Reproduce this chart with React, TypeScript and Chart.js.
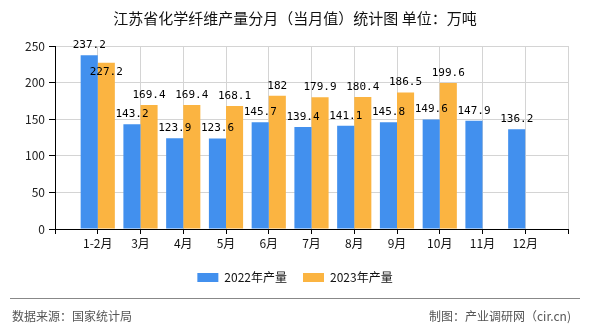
import React, { useEffect, useRef } from "react";
import { Chart, registerables } from "chart.js";

Chart.register(...registerables);

const titleText = "江苏省化学纤维产量分月（当月值）统计图 单位：万吨";
const months = ["1-2月", "3月", "4月", "5月", "6月", "7月", "8月", "9月", "10月", "11月", "12月"];
const series2022 = [237.2, 143.2, 123.9, 123.6, 145.7, 139.4, 141.1, 145.8, 149.6, 147.9, 136.2];
const series2023 = [227.2, 169.4, 169.4, 168.1, 182, 179.9, 180.4, 186.5, 199.6, null, null];
const seriesNames = ["2022年产量", "2023年产量"];
const seriesColors = ["#4290EE", "#FBB441"];
const yTicks = [0, 50, 100, 150, 200, 250];
const sourceText = "数据来源：国家统计局";
const creditText = "制图：产业调研网（cir.cn)";

const FONT = '"Noto Sans CJK SC", "Noto Sans", sans-serif';

const labelPlugin = {
  id: "barLabels",
  afterDatasetsDraw(chart: any) {
    const ctx = chart.ctx;
    ctx.save();
    ctx.font = '11px "DejaVu Sans Mono", monospace';
    ctx.fillStyle = "#000";
    ctx.textAlign = "center";
    ctx.textBaseline = "middle";
    const placed: { x: number; y: number; w: number }[] = [];
    const h = 12;
    chart.data.datasets.forEach((ds: any, di: number) => {
      const meta = chart.getDatasetMeta(di);
      meta.data.forEach((bar: any, i: number) => {
        const v = ds.data[i];
        if (v == null) return;
        const text = String(v);
        const w = ctx.measureText(text).width;
        let y = bar.y - 10;
        const overlaps = (yy: number) =>
          placed.some((p) => Math.abs(p.x - bar.x) < (p.w + w) / 2 && Math.abs(p.y - yy) < h);
        if (overlaps(y)) y = bar.y + 9;
        placed.push({ x: bar.x, y, w });
        ctx.fillText(text, bar.x, y);
      });
    });
    ctx.restore();
  },
};

const decorPlugin = {
  id: "decor",
  afterDraw(chart: any) {
    const ctx = chart.ctx;
    const W = chart.width;
    ctx.save();
    // title
    ctx.font = "15px " + FONT;
    ctx.fillStyle = "#111";
    ctx.textAlign = "center";
    ctx.textBaseline = "middle";
    ctx.fillText(titleText, W / 2, 18);

    // legend
    ctx.font = "12px " + FONT;
    const boxW = 21, boxH = 9, gapBox = 6, gapItem = 16;
    const widths = seriesNames.map((n) => boxW + gapBox + ctx.measureText(n).width);
    const total = widths.reduce((a, b) => a + b, 0) + gapItem * (widths.length - 1);
    let x = W / 2 - total / 2;
    const ly = 277.5;
    seriesNames.forEach((n, i) => {
      ctx.fillStyle = seriesColors[i];
      ctx.fillRect(x, ly - boxH / 2, boxW, boxH);
      ctx.fillStyle = "#111";
      ctx.textAlign = "left";
      ctx.fillText(n, x + boxW + gapBox, ly);
      x += widths[i] + gapItem;
    });

    // footer
    ctx.strokeStyle = "#888";
    ctx.lineWidth = 1;
    ctx.beginPath();
    ctx.moveTo(10, 298.5);
    ctx.lineTo(580, 298.5);
    ctx.stroke();
    ctx.fillStyle = "#555";
    ctx.font = "12px " + FONT;
    ctx.textAlign = "left";
    ctx.fillText(sourceText, 12, 316);
    ctx.textAlign = "right";
    ctx.fillText(creditText, 571, 316);
    ctx.restore();
  },
};

export default function App() {
  const ref = useRef<HTMLCanvasElement | null>(null);
  useEffect(() => {
    if (!ref.current) return;
    const labels = ["", ...months, ""];
    const pad = (arr: (number | null)[]) => [null, ...arr, null];
    const chart = new Chart(ref.current, {
      type: "bar",
      data: {
        labels,
        datasets: [
          {
            label: seriesNames[0],
            data: pad(series2022),
            backgroundColor: seriesColors[0],
            categoryPercentage: 0.8,
            barPercentage: 1.0,
          },
          {
            label: seriesNames[1],
            data: pad(series2023),
            backgroundColor: seriesColors[1],
            categoryPercentage: 0.8,
            barPercentage: 1.0,
          },
        ],
      },
      options: {
        responsive: false,
        animation: false,
        layout: { padding: { left: 0, right: 22, top: 46, bottom: 81 } },
        plugins: {
          legend: { display: false },
          title: { display: false },
          tooltip: { enabled: false },
        },
        scales: {
          x: {
            offset: false,
            grid: {
              offset: false,
              color: "#d4d4d4",
              tickColor: "#000",
              tickLength: 5,
              drawOnChartArea: true,
            },
            border: { color: "#000", width: 1 },
            ticks: {
              autoSkip: false,
              maxRotation: 0,
              minRotation: 0,
              padding: 2,
              color: "#111",
              font: { size: 12, family: FONT },
            },
            afterFit: (scale: any) => {
              scale.height = 20;
            },
          },
          y: {
            min: 0,
            max: 250,
            afterBuildTicks: (scale: any) => {
              scale.ticks = yTicks.map((v) => ({ value: v }));
            },
            grid: {
              color: "#d4d4d4",
              tickColor: "#000",
              tickLength: 6,
            },
            border: { color: "#000", width: 1 },
            ticks: {
              padding: 4,
              color: "#222",
              font: { size: 12, family: FONT },
            },
            afterFit: (scale: any) => {
              scale.width = 55;
            },
          },
        },
      },
      plugins: [labelPlugin, decorPlugin],
    });
    return () => chart.destroy();
  }, []);
  return (
    <div style={{ position: "absolute", left: 0, top: 0, width: 590, height: 330, background: "#fff" }}>
      <canvas ref={ref} width={590} height={330} style={{ display: "block" }} />
    </div>
  );
}
